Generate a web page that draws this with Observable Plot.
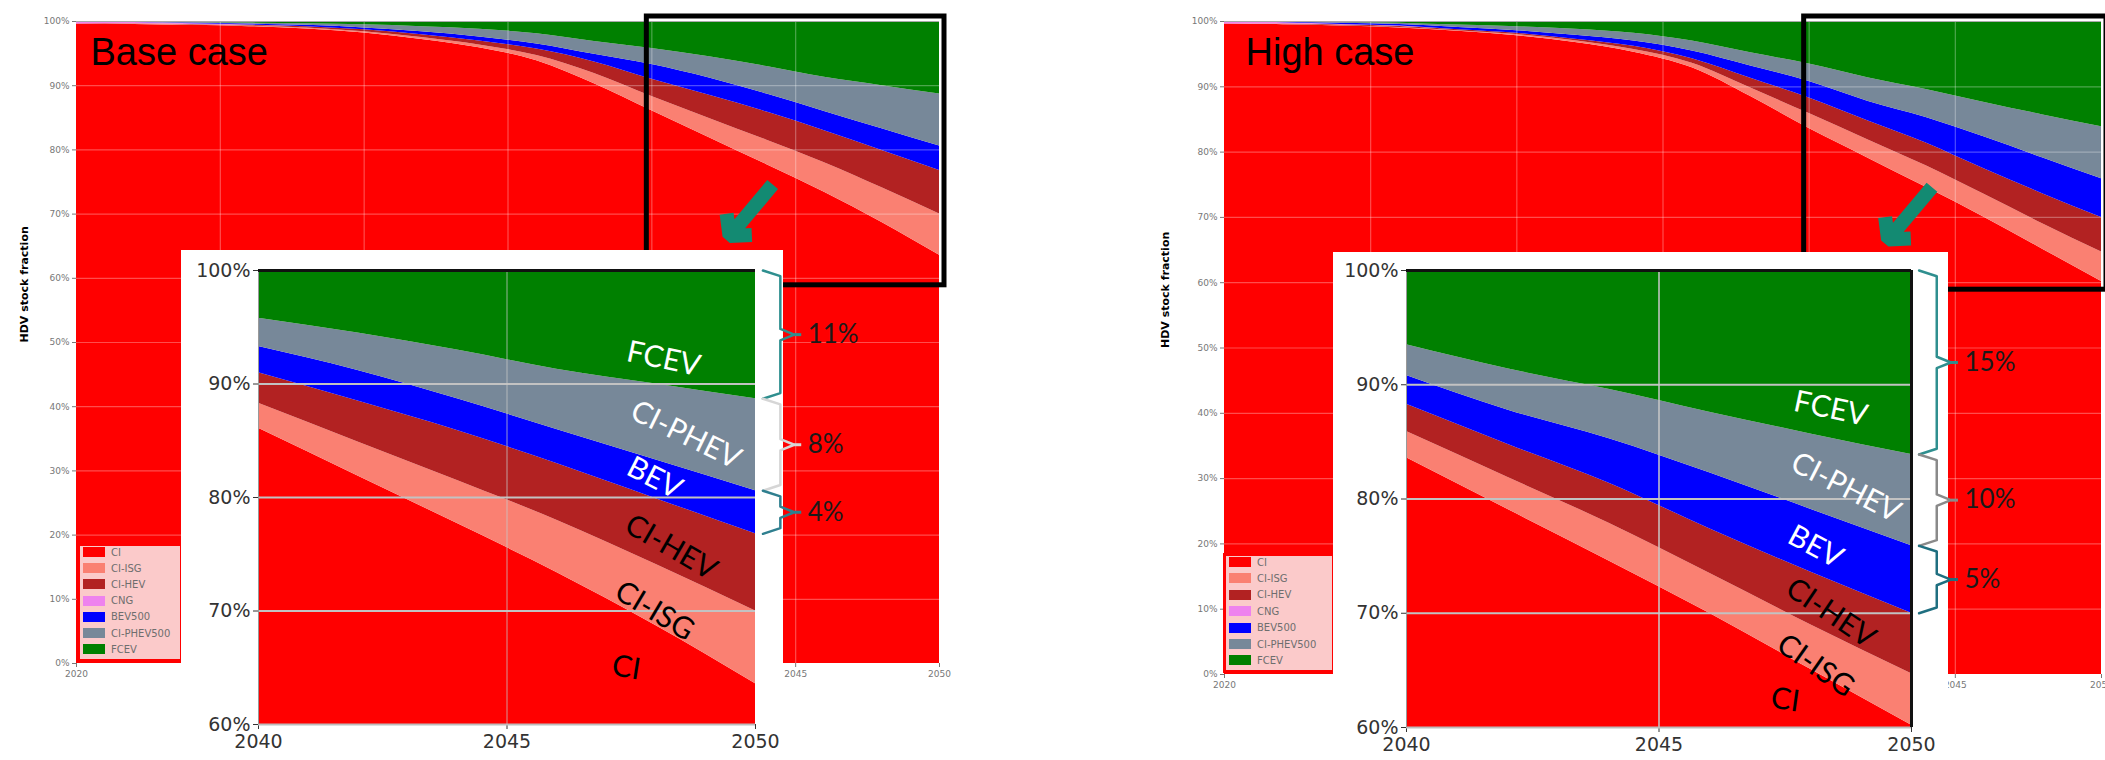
<!DOCTYPE html>
<html><head><meta charset="utf-8">
<script src="https://cdn.jsdelivr.net/npm/d3@7"></script>
<script src="https://cdn.jsdelivr.net/npm/@observablehq/plot@0.6"></script>
<style>
body{margin:0;background:#fff;}
#root{position:relative;width:2105px;height:760px;overflow:hidden;background:#fff;}
.abs{position:absolute;}
.legend{position:absolute;background:#fbcaca;border:3px solid #ff0000;box-sizing:border-box;font-family:"DejaVu Sans",sans-serif;font-size:10px;color:#6e6e6e;overflow:hidden;}
.legend .row{position:absolute;left:3px;height:12px;display:flex;align-items:center;white-space:nowrap;}
.legend .sw{width:22px;height:10px;margin-right:6px;flex:none;}
.inset-bg{position:absolute;background:#fff;}
</style></head><body><div id="root"></div>
<script>
// ---------- data ----------
const years = [2020, 2022, 2024, 2026, 2028, 2030, 2032, 2034, 2036, 2038, 2040, 2042, 2044, 2046, 2048, 2050];
const series = ["CI", "CI-ISG", "CI-HEV", "CNG", "BEV500", "CI-PHEV500", "FCEV"];
const seriesColors = ["#ff0000", "#fa8072", "#b22222", "#ee82ee", "#0000ff", "#778899", "#008000"];

// Base case shares (%)
const baseCI   = [99.6, 99.55, 99.4, 99.2, 98.85, 98.2, 97.2, 95.9, 93.9, 90.3, 86.1, 81.9, 77.7, 73.4, 68.7, 63.6];
const baseISG  = [0, 0.05, 0.05, 0.1, 0.15, 0.2, 0.3, 0.45, 0.8, 1.6, 2.2, 3.0, 3.8, 4.6, 5.4, 6.4];
const baseHEV  = [0, 0.05, 0.1, 0.1, 0.2, 0.3, 0.45, 0.6, 1.0, 1.8, 2.7, 3.6, 4.4, 5.0, 5.8, 6.8];
const baseCNG  = [0.3, 0.2, 0.1, 0.05, 0, 0, 0, 0, 0, 0, 0, 0, 0, 0, 0, 0];
const baseBEV  = [0.05, 0.05, 0.1, 0.15, 0.2, 0.3, 0.45, 0.65, 0.8, 1.2, 2.3, 2.7, 2.8, 3.0, 3.4, 3.8];
const basePHEV = [0.05, 0.05, 0.1, 0.15, 0.25, 0.5, 0.8, 1.2, 1.6, 2.0, 2.5, 3.3, 4.3, 5.3, 6.7, 8.1];
const baseFCEV = [0, 0.05, 0.15, 0.25, 0.35, 0.5, 0.8, 1.2, 1.9, 3.1, 4.2, 5.5, 7.0, 8.7, 10.0, 11.3];

// High case shares (%)
const highCI   = [99.6, 99.5, 99.3, 99.0, 98.5, 97.8, 96.8, 95.3, 92.9, 88.5, 83.6, 79.1, 74.6, 70.0, 65.1, 60.2];
const highISG  = [0, 0.05, 0.05, 0.1, 0.1, 0.2, 0.25, 0.4, 0.7, 1.3, 2.3, 2.8, 3.3, 3.5, 3.9, 4.5];
const highHEV  = [0, 0.05, 0.1, 0.15, 0.15, 0.2, 0.25, 0.5, 0.7, 1.5, 2.4, 2.9, 3.5, 3.9, 4.6, 5.3];
const highCNG  = [0.3, 0.2, 0.1, 0.05, 0, 0, 0, 0, 0, 0, 0, 0, 0, 0, 0, 0];
const highBEV  = [0.05, 0.1, 0.2, 0.25, 0.35, 0.4, 0.6, 0.8, 1.2, 1.9, 2.5, 3.0, 3.9, 4.9, 5.5, 5.9];
const highPHEV = [0.05, 0.05, 0.1, 0.2, 0.35, 0.6, 0.9, 1.2, 1.5, 2.0, 2.7, 3.6, 4.3, 5.3, 6.6, 8.0];
const highFCEV = [0, 0.05, 0.15, 0.25, 0.55, 0.8, 1.2, 1.8, 3.0, 4.8, 6.5, 8.6, 10.4, 12.4, 14.3, 16.1];

// axis ticks
const mainXTicks = [2020, 2025, 2030, 2035, 2040, 2045, 2050];
const mainYTicks = [0, 10, 20, 30, 40, 50, 60, 70, 80, 90, 100];
const insetXTicks = [2040, 2045, 2050];
const insetYTicks = [60, 70, 80, 90, 100];

// titles / labels
const baseTitle = "Base case";
const highTitle = "High case";
const yAxisTitle = "HDV stock fraction";
const legendLabels = ["CI", "CI-ISG", "CI-HEV", "CNG", "BEV500", "CI-PHEV500", "FCEV"];

// zoom box and arrow annotations (data coordinates)
const zoomBox = [{x1: 2040, x2: 2050, y1: 60, y2: 100}];
const arrowSpec = [{x1: 2044.2, y1: 74.6, x2: 2042.7, y2: 66.6}];

// inset band labels
const insetLabelText  = ["FCEV", "CI-PHEV", "BEV", "CI-HEV", "CI-ISG", "CI"];
const insetLabelColor = ["white", "white", "white", "black", "black", "black"];
const baseLabelX = [2048.15, 2048.6, 2047.97, 2048.3, 2047.97, 2047.4];
const baseLabelY = [92.2, 85.5, 81.7, 75.6, 70.0, 65.0];
const baseLabelAngle = [12, 26, 27, 30, 31, 9];
const highLabelX = [2048.4, 2048.7, 2048.1, 2048.4, 2048.1, 2047.5];
const highLabelY = [87.9, 81.0, 75.8, 70.0, 65.4, 62.4];
const highLabelAngle = [12, 27, 28, 34, 35, 8];

// brackets at 2050
const bracketSeries = ["FCEV", "CI-PHEV500", "BEV500"];
const baseBracketText = ["11%", "8%", "4%"];
const highBracketText = ["15%", "10%", "5%"];
const baseBracketColor = ["#2f8f8f", "#d6d6d6", "#2f7f8f"];
const highBracketColor = ["#2f8f8f", "#8a8a8a", "#1f6f80"];

// ---------- helpers ----------
function toRows(arrs) {
  const rows = [];
  series.forEach((s, i) => years.forEach((yr, j) => rows.push({series: s, year: yr, value: arrs[i][j]})));
  return rows;
}
function bandsAtEnd(arrs) {
  const j = years.length - 1;
  let cum = 0;
  const out = {};
  series.forEach((s, i) => { const lo = cum; cum += arrs[i][j]; out[s] = {lo, hi: cum}; });
  return out;
}

function mainChart(o) {
  return Plot.plot({
    width: o.width, height: o.height,
    marginLeft: o.mL, marginRight: o.mR, marginTop: o.mT, marginBottom: o.mB,
    style: {background: "transparent", fontFamily: "DejaVu Sans", fontSize: "9px", color: "#777", overflow: "visible"},
    x: {domain: [2020, 2050], ticks: mainXTicks, tickFormat: d => String(d), label: null, tickSize: 4, tickPadding: 3},
    y: {domain: [0, 100], ticks: mainYTicks, tickFormat: d => d + "%", label: null, tickSize: 4, tickPadding: 3},
    color: {domain: series, range: seriesColors},
    marks: [
      Plot.areaY(o.rows, {x: "year", y: "value", fill: "series", curve: "monotone-x"}),
      Plot.ruleX(mainXTicks.slice(1, -1), {stroke: "white", strokeOpacity: 0.3, strokeWidth: 1.2}),
      Plot.ruleY(mainYTicks.slice(1, -1), {stroke: "white", strokeOpacity: 0.3, strokeWidth: 1.2}),
      Plot.ruleY([100], {stroke: "#aaa", strokeWidth: 1}),
      Plot.rect(zoomBox, {x1: "x1", x2: "x2", y1: "y1", y2: "y2", fill: "none", stroke: "black", strokeWidth: 5,
        insetLeft: -5, insetRight: -5, insetTop: -5, insetBottom: -7}),
      Plot.arrow(arrowSpec, {x1: "x1", y1: "y1", x2: "x2", y2: "y2", stroke: "#138a72", strokeWidth: 14,
        headLength: 17, headAngle: 95, strokeLinejoin: "miter", strokeLinecap: "butt"}),
      Plot.text([o.title], {text: d => d, frameAnchor: "top-left", textAnchor: "start", lineAnchor: "top",
        dx: o.titleDx, dy: 17, fontSize: 38, fontFamily: "Liberation Sans", fill: "black"}),
      Plot.text([yAxisTitle], {text: d => d, frameAnchor: "left", rotate: -90, dx: o.labelDx,
        fontSize: 11, fontWeight: "bold", fill: "black", fontFamily: "DejaVu Sans"})
    ]
  });
}

function insetChart(o) {
  const rows = o.rows.filter(d => d.year >= 2040);
  const bands = bandsAtEnd(o.arrs);
  const labels = insetLabelText.map((t, i) => ({t, x: o.lx[i], y: o.ly[i], a: o.la[i], c: insetLabelColor[i]}));
  const braceMarks = [];
  const d = 0.5, x0 = 2050.15, xb = 2050.5, xt = 2050.78;
  bracketSeries.forEach((s, i) => {
    const ya = bands[s].hi, yb = bands[s].lo, m = (ya + yb) / 2;
    const pts = [
      {x: x0, y: ya}, {x: xb, y: ya - d}, {x: xb, y: m + d}, {x: xt, y: m},
      {x: xb, y: m - d}, {x: xb, y: yb + d}, {x: x0, y: yb}
    ];
    braceMarks.push(Plot.line(pts, {x: "x", y: "y", stroke: o.bc[i], strokeWidth: 2.5, curve: "linear"}));
    braceMarks.push(Plot.link([{m}], {x1: () => xt, x2: () => 2050.92, y1: "m", y2: "m", stroke: o.bc[i], strokeWidth: 3}));
    braceMarks.push(Plot.text([{m, t: o.bt[i]}], {x: () => 2051.05, y: "m", text: "t", textAnchor: "start",
      fontSize: 26, fontFamily: "Lato", fill: "#1a1a1a"}));
  });
  return Plot.plot({
    width: o.width, height: o.height,
    marginLeft: o.mL, marginRight: o.mR, marginTop: o.mT, marginBottom: o.mB,
    style: {background: "transparent", fontFamily: "DejaVu Sans", fontSize: "19px", color: "#333", overflow: "visible"},
    x: {domain: [2040, 2050], ticks: insetXTicks, tickFormat: d => String(d), label: null, tickSize: 5, tickPadding: 5},
    y: {domain: [60, 100], ticks: insetYTicks, tickFormat: d => d + "%", label: null, tickSize: 5, tickPadding: 3},
    color: {domain: series, range: seriesColors},
    marks: [
      Plot.areaY(rows, {x: "year", y: "value", fill: "series", curve: "monotone-x", clip: true}),
      Plot.ruleY([70, 80, 90], {stroke: "#c2c2c2", strokeWidth: 2}),
      Plot.ruleX([2045], {stroke: "#c8c8c8", strokeWidth: 1.5, strokeOpacity: o.vgrid}),
      Plot.ruleY([60], {stroke: "#bdbdbd", strokeWidth: 2}),
      Plot.ruleX([2040], {stroke: "#999", strokeWidth: 1}),
      Plot.ruleY([100], {stroke: "#111", strokeWidth: 3}),
      o.rightBorder ? Plot.ruleX([2050], {stroke: "#111", strokeWidth: 3}) : null,
      Plot.text(labels, {x: "x", y: "y", text: "t", rotate: "a", fill: "c", fontSize: 30, fontFamily: "Lato"}),
      ...braceMarks
    ]
  });
}

function place(el, left, top) {
  const wrap = document.createElement("div");
  wrap.className = "abs";
  wrap.style.left = left + "px";
  wrap.style.top = top + "px";
  wrap.appendChild(el);
  document.getElementById("root").appendChild(wrap);
}
function legend(left, top, w, h, first, step) {
  const div = document.createElement("div");
  div.className = "legend";
  Object.assign(div.style, {left: left + "px", top: top + "px", width: w + "px", height: h + "px"});
  legendLabels.forEach((lab, i) => {
    const row = document.createElement("div");
    row.className = "row";
    row.style.top = (first + i * step - 6) + "px";
    const sw = document.createElement("div");
    sw.className = "sw";
    sw.style.background = seriesColors[i];
    const tx = document.createElement("span");
    tx.textContent = lab;
    row.appendChild(sw); row.appendChild(tx);
    div.appendChild(row);
  });
  document.getElementById("root").appendChild(div);
}
function box(left, top, w, h) {
  const div = document.createElement("div");
  div.className = "inset-bg";
  Object.assign(div.style, {left: left + "px", top: top + "px", width: w + "px", height: h + "px"});
  document.getElementById("root").appendChild(div);
}

const baseArrs = [baseCI, baseISG, baseHEV, baseCNG, baseBEV, basePHEV, baseFCEV];
const highArrs = [highCI, highISG, highHEV, highCNG, highBEV, highPHEV, highFCEV];
const baseRows = toRows(baseArrs);
const highRows = toRows(highArrs);

// ---------- base case ----------
place(mainChart({rows: baseRows, width: 960, height: 700, mL: 76, mR: 21, mT: 21, mB: 37,
  title: baseTitle, titleDx: 14, labelDx: -52}), 0, 0);
legend(77, 543, 106, 119, 6, 16.2);
box(181, 250, 602, 510);
place(insetChart({rows: baseRows, arrs: baseArrs, width: 700, height: 510, mL: 77, mR: 126, mT: 20, mB: 36,
  lx: baseLabelX, ly: baseLabelY, la: baseLabelAngle, bt: baseBracketText, bc: baseBracketColor,
  rightBorder: false, vgrid: 0.5}), 181, 250);

// ---------- high case ----------
place(mainChart({rows: highRows, width: 965, height: 700, mL: 84, mR: 4, mT: 21, mB: 26,
  title: highTitle, titleDx: 21, labelDx: -59}), 1140, 0);
legend(1223, 553, 112, 120, 6, 16.4);
box(1333, 252, 615, 508);
place(insetChart({rows: highRows, arrs: highArrs, width: 772, height: 510, mL: 73, mR: 194, mT: 20, mB: 33,
  lx: highLabelX, ly: highLabelY, la: highLabelAngle, bt: highBracketText, bc: highBracketColor,
  rightBorder: true, vgrid: 1}), 1333, 250);
</script></body></html>
